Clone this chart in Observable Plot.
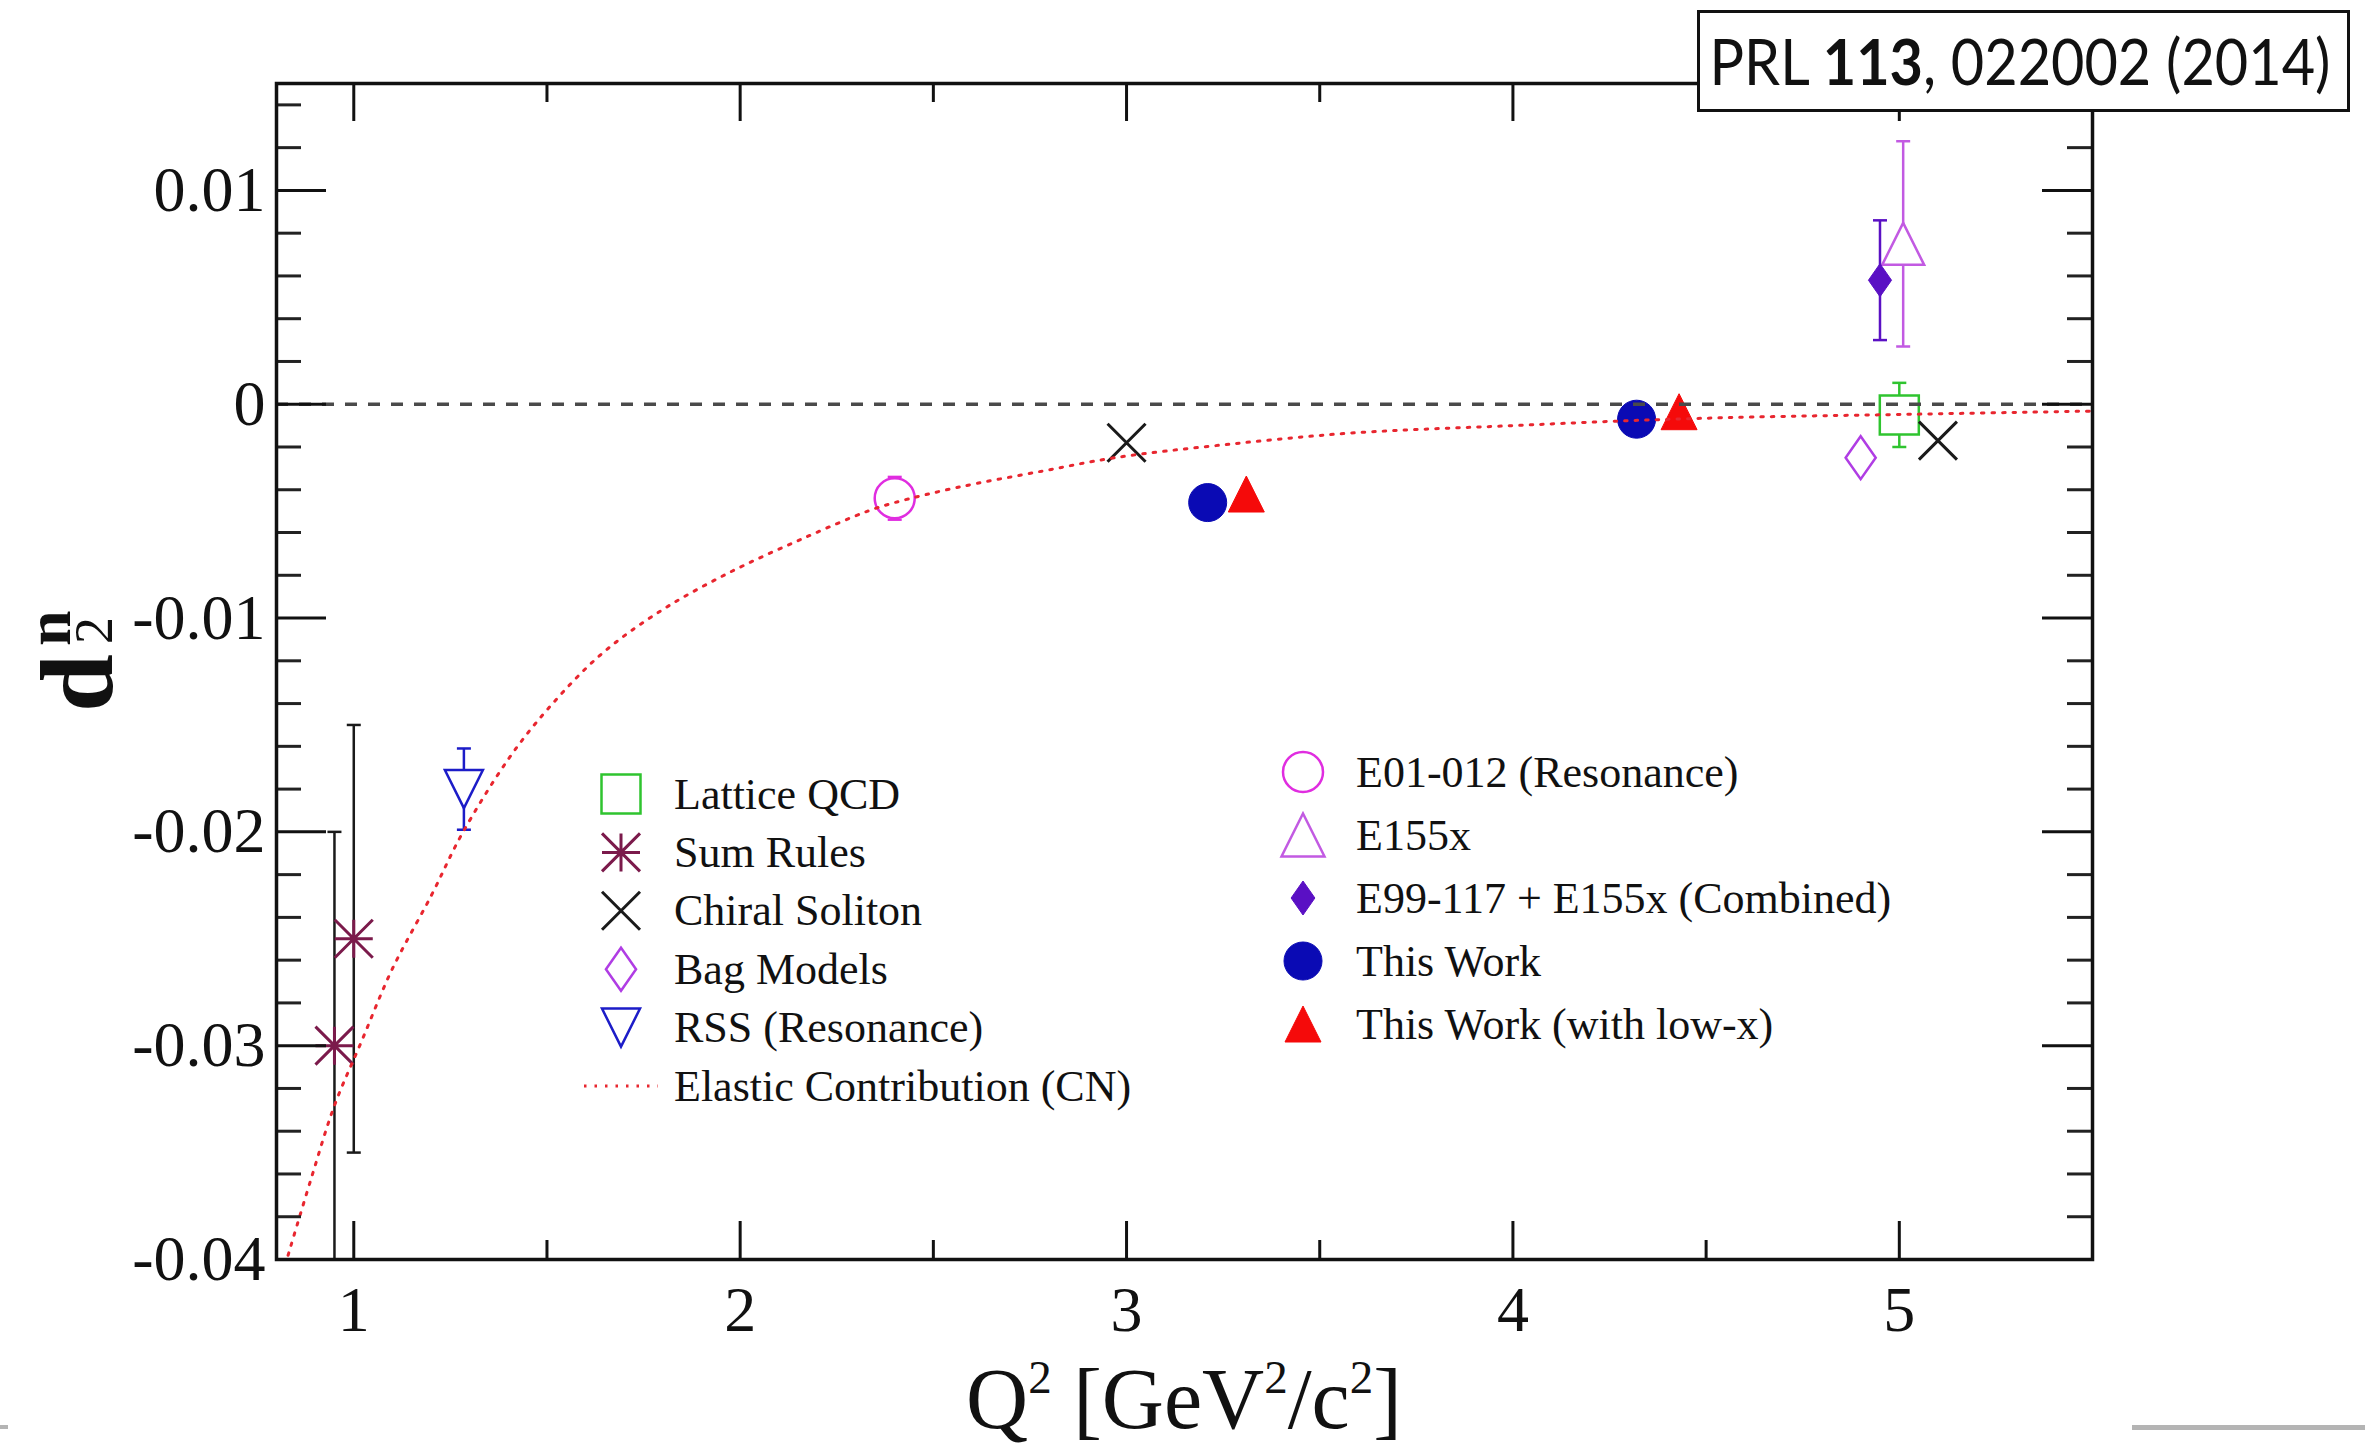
<!DOCTYPE html>
<html>
<head>
<meta charset="utf-8">
<script src="https://cdn.jsdelivr.net/npm/d3@7"></script>
<script src="https://cdn.jsdelivr.net/npm/@observablehq/plot@0.6"></script>
<style>
  html, body { margin: 0; padding: 0; background: #fff; }
  #wrap { position: relative; width: 2365px; height: 1450px; overflow: hidden; background: #fff;
          font-family: 'Liberation Serif', 'Times New Roman', serif; }
  #chart { position: absolute; left: 0; top: 0; }
  #overlay { position: absolute; left: 0; top: 0; pointer-events: none; }
  #title { position: absolute; left: 1697px; top: 10px; width: 653px; height: 102px; box-sizing: border-box;
           border: 3px solid #111; background: #fff; font-family: Lato, 'Open Sans', sans-serif; font-size: 64px;
           display: flex; justify-content: center; align-items: center; color: #111; white-space: nowrap; z-index: 5; }
  #title span { display: inline-block; flex: none; transform: translateX(-4px) scaleX(0.9); transform-origin: center; line-height: 1; }
  .gray { position: absolute; background: #b4b4b4; }
</style>
</head>
<body>
<div id="wrap">
  <div id="chart"></div>
  <svg id="overlay" width="2365" height="1450"></svg>
  <div id="title"><span>PRL <b>113</b>, 022002 (2014)</span></div>
  <div class="gray" style="left:2132px; top:1425px; width:233px; height:5px;"></div>
  <div class="gray" style="left:0px; top:1425px; width:8px; height:4px;"></div>
</div>
<script>
// ---------------- data ----------------
const latticeQ2 = [5.0],        latticeD2 = [-0.0005],          latticeErr = [0.0015];
const sumRulesQ2 = [0.95, 1.0], sumRulesD2 = [-0.030, -0.025],  sumRulesErr = [0.010, 0.010];
const chiralQ2 = [3.0, 5.1],    chiralD2 = [-0.0018, -0.0017];
const bagQ2 = [4.9],            bagD2 = [-0.0025];
const rssQ2 = [1.285],          rssD2 = [-0.0180],              rssErr = [0.0019];
const e01Q2 = [2.4],            e01D2 = [-0.0044],              e01Err = [0.0010];
const e155xQ2 = [5.01],         e155xD2 = [0.0075],             e155xErr = [0.0048];
const combQ2 = [4.95],          combD2 = [0.0058],              combErr = [0.0028];
const thisWorkQ2 = [3.21, 4.32], thisWorkD2 = [-0.0046, -0.0007];
const lowXQ2 = [3.31, 4.43],     lowXD2 = [-0.0042, -0.00035];
const elasticQ2 = [0.83, 0.89, 0.95, 1.02, 1.10, 1.20, 1.28, 1.40, 1.50, 1.64, 1.80, 1.98, 2.16, 2.33, 2.40,
                   2.56, 2.79, 2.97, 3.25, 3.58, 4.00, 4.33, 4.62, 5.00, 5.50];
const elasticD2 = [-0.0398, -0.0362, -0.0328, -0.0298, -0.0264, -0.0230, -0.0201, -0.0166, -0.0143, -0.0117,
                   -0.0096, -0.0078, -0.0063, -0.0050, -0.0046, -0.0039, -0.0031, -0.0025, -0.0019, -0.00135,
                   -0.0010, -0.00075, -0.0006, -0.00048, -0.00032];

const xMajor = [1, 2, 3, 4, 5];
const xMinor = [1.5, 2.5, 3.5, 4.5];
const yMajor = [-0.04, -0.03, -0.02, -0.01, 0, 0.01];
const yMinor = [-0.038, -0.036, -0.034, -0.032, -0.028, -0.026, -0.024, -0.022, -0.018, -0.016, -0.014, -0.012,
                -0.008, -0.006, -0.004, -0.002, 0.002, 0.004, 0.006, 0.008, 0.012, 0.014];

const legendLeft = ["Lattice QCD", "Sum Rules", "Chiral Soliton", "Bag Models", "RSS (Resonance)", "Elastic Contribution (CN)"];
const legendRight = ["E01-012 (Resonance)", "E155x", "E99-117 + E155x (Combined)", "This Work", "This Work (with low-x)"];

// ---------------- helpers ----------------
const rows = (q, d, e) => q.map((v, i) => ({q: v, d: d[i], e: e ? e[i] : 0}));
const R = s => Math.sqrt(s / Math.PI);
const sym = {
  square:  {draw(c, s) { const r = R(s); c.rect(-r, -r, 2 * r, 2 * r); }},
  times:   {draw(c, s) { const r = R(s); c.moveTo(-r, -r); c.lineTo(r, r); c.moveTo(-r, r); c.lineTo(r, -r); }},
  star:    {draw(c, s) { const r = R(s); c.moveTo(-r, -r); c.lineTo(r, r); c.moveTo(-r, r); c.lineTo(r, -r);
                                          c.moveTo(-r, 0); c.lineTo(r, 0); c.moveTo(0, -r); c.lineTo(0, r); }},
  diamond: {draw(c, s) { const r = R(s), w = 0.7 * r; c.moveTo(0, -r); c.lineTo(w, 0); c.lineTo(0, r); c.lineTo(-w, 0); c.closePath(); }},
  triUp:   {draw(c, s) { const r = R(s); c.moveTo(0, -r); c.lineTo(r, r); c.lineTo(-r, r); c.closePath(); }},
  triDown: {draw(c, s) { const r = R(s); c.moveTo(0, r); c.lineTo(r, -r); c.lineTo(-r, -r); c.closePath(); }},
  circle:  {draw(c, s) { const r = R(s); c.moveTo(r, 0); c.arc(0, 0, r, 0, 2 * Math.PI); c.closePath(); }},
  hline:   {draw(c, s) { const r = R(s); c.moveTo(-r, 0); c.lineTo(r, 0); }}
};

const C = {
  lattice: "#2fc42f", sum: "#7b1a4b", chiral: "#1a1a1a", bag: "#b03de4", rss: "#1c1cc8",
  e01: "#e02de0", e155x: "#c25ae2", comb: "#5a10c4", thisWork: "#0a0ab4", lowX: "#f50a0a", elastic: "#e8262f"
};

const lattice = rows(latticeQ2, latticeD2, latticeErr);
const sumRules = rows(sumRulesQ2, sumRulesD2, sumRulesErr);
const chiral = rows(chiralQ2, chiralD2);
const bag = rows(bagQ2, bagD2);
const rss = rows(rssQ2, rssD2, rssErr);
const e01 = rows(e01Q2, e01D2, e01Err);
const e155x = rows(e155xQ2, e155xD2, e155xErr);
const comb = rows(combQ2, combD2, combErr);
const thisWork = rows(thisWorkQ2, thisWorkD2);
const lowX = rows(lowXQ2, lowXD2);
const elastic = rows(elasticQ2, elasticD2);

function errBars(data, color) {
  return [
    Plot.ruleX(data, {x: "q", y1: d => d.d - d.e, y2: d => d.d + d.e, stroke: color, strokeWidth: 2.5}),
    Plot.dot(data, {x: "q", y: d => d.d - d.e, symbol: sym.hline, r: 7, stroke: color, strokeWidth: 2.5, fill: "none"}),
    Plot.dot(data, {x: "q", y: d => d.d + d.e, symbol: sym.hline, r: 7, stroke: color, strokeWidth: 2.5, fill: "none"})
  ];
}

const W = 2365, H = 1450, mL = 276, mR = 273, mT = 83, mB = 191;
const innerW = W - mL - mR, innerH = H - mT - mB;

const chart = Plot.plot({
  width: W, height: H,
  marginLeft: mL, marginRight: mR, marginTop: mT, marginBottom: mB,
  style: {fontFamily: "'Liberation Serif', 'Times New Roman', serif", background: "transparent", color: "#111"},
  x: {type: "linear", domain: [0.8, 5.5]},
  y: {type: "linear", domain: [-0.04, 0.015]},
  marks: [
    // error bars (open markers below are white-filled so the bar does not show inside them)
    ...errBars(sumRules, "#1a1a1a"),
    ...errBars(rss, C.rss),
    ...errBars(e01, C.e01),
    ...errBars(lattice, C.lattice),
    ...errBars(e155x, C.e155x),
    // markers
    Plot.dot(lattice, {x: "q", y: "d", symbol: sym.square, r: 19.5, stroke: C.lattice, fill: "white", strokeWidth: 2.5}),
    Plot.dot(sumRules, {x: "q", y: "d", symbol: sym.star, r: 19, stroke: C.sum, fill: "none", strokeWidth: 3}),
    Plot.dot(chiral, {x: "q", y: "d", symbol: sym.times, r: 19, stroke: C.chiral, fill: "none", strokeWidth: 3}),
    Plot.dot(bag, {x: "q", y: "d", symbol: sym.diamond, r: 21.5, stroke: C.bag, fill: "white", strokeWidth: 2.5}),
    Plot.dot(rss, {x: "q", y: "d", symbol: sym.triDown, r: 19, stroke: C.rss, fill: "white", strokeWidth: 2.5}),
    Plot.dot(e01, {x: "q", y: "d", symbol: sym.circle, r: 20, stroke: C.e01, fill: "white", strokeWidth: 2.5}),
    Plot.dot(e155x, {x: "q", y: "d", symbol: sym.triUp, r: 21, stroke: C.e155x, fill: "white", strokeWidth: 2.5}),
    ...errBars(comb, C.comb),
    Plot.dot(comb, {x: "q", y: "d", symbol: sym.diamond, r: 16.5, fill: C.comb, stroke: C.comb, strokeWidth: 1}),
    Plot.dot(thisWork, {x: "q", y: "d", symbol: sym.circle, r: 19, fill: C.thisWork, stroke: C.thisWork, strokeWidth: 1}),
    Plot.dot(lowX, {x: "q", y: "d", symbol: sym.triUp, r: 18, fill: C.lowX, stroke: C.lowX, strokeWidth: 1}),
    // zero line and elastic curve
    Plot.ruleY([0], {stroke: "#4a4a4a", strokeWidth: 3.5, strokeDasharray: "12,11"}),
    Plot.line(elastic, {x: "q", y: "d", curve: "catmull-rom", stroke: C.elastic, strokeWidth: 3,
                        strokeDasharray: "2.5,8", clip: true}),
    // ticks (inward, mirrored)
    Plot.tickX(xMajor, {x: d => d, insetTop: innerH - 38, stroke: "#111", strokeWidth: 3}),
    Plot.tickX(xMajor, {x: d => d, insetBottom: innerH - 38, stroke: "#111", strokeWidth: 3}),
    Plot.tickX(xMinor, {x: d => d, insetTop: innerH - 19, stroke: "#111", strokeWidth: 3}),
    Plot.tickX(xMinor, {x: d => d, insetBottom: innerH - 19, stroke: "#111", strokeWidth: 3}),
    Plot.tickY(yMajor, {y: d => d, insetRight: innerW - 50, stroke: "#111", strokeWidth: 3}),
    Plot.tickY(yMajor, {y: d => d, insetLeft: innerW - 50, stroke: "#111", strokeWidth: 3}),
    Plot.tickY(yMinor, {y: d => d, insetRight: innerW - 25, stroke: "#222", strokeWidth: 3}),
    Plot.tickY(yMinor, {y: d => d, insetLeft: innerW - 25, stroke: "#222", strokeWidth: 3}),
    // tick labels
    Plot.axisX(xMajor, {anchor: "bottom", tickSize: 0, tickPadding: 26, fontSize: 64, label: null,
                        tickFormat: d => String(d)}),
    Plot.axisY(yMajor, {anchor: "left", tickSize: 0, tickPadding: 11, fontSize: 64, label: null,
                        tickFormat: d => d === 0 ? "0" : String(d)}),
    Plot.frame({stroke: "#111", strokeWidth: 3.5})
  ]
});
document.getElementById("chart").appendChild(chart);

// ---------------- overlay: axis labels + legend ----------------
const ov = d3.select("#overlay");
const ff = "'Liberation Serif', 'Times New Roman', serif";

// y label: d_2^n (rotated)
const yl = ov.append("text").attr("transform", "translate(112,712) rotate(-90)")
  .attr("font-family", ff).attr("fill", "#111");
yl.append("tspan").attr("x", 0).attr("y", 0).attr("font-size", 104).attr("font-weight", "bold").text("d");
yl.append("tspan").attr("x", 68).attr("y", 0).attr("font-size", 54).text("2");
yl.append("tspan").attr("x", 66).attr("y", -42).attr("font-size", 64).attr("font-weight", "bold").text("n");

// x label: Q^2 [GeV^2/c^2]
const xl = ov.append("text").attr("x", 1184).attr("y", 1428).attr("text-anchor", "middle")
  .attr("font-family", ff).attr("font-size", 86).attr("fill", "#111");
const xparts = [["Q", 0], ["2", 1], [" [GeV", 0], ["2", 1], ["/c", 0], ["2", 1], ["]", 0]];
let raised = false;
xparts.forEach(([t, sup]) => {
  const ts = xl.append("tspan").text(t);
  if (sup) { ts.attr("font-size", 47).attr("dy", -35); raised = true; }
  else if (raised) { ts.attr("dy", 35); raised = false; }
});

function symPath(s, r) { const p = d3.path(); s.draw(p, r * r * Math.PI); return p.toString(); }

const leftSyms = [
  {s: sym.square, r: 19.5, stroke: C.lattice, fill: "none", w: 2.5},
  {s: sym.star, r: 19, stroke: C.sum, fill: "none", w: 3},
  {s: sym.times, r: 19, stroke: C.chiral, fill: "none", w: 3},
  {s: sym.diamond, r: 21.5, stroke: C.bag, fill: "none", w: 2.5},
  {s: sym.triDown, r: 19, stroke: C.rss, fill: "none", w: 2.5},
  {line: true}
];
const rightSyms = [
  {s: sym.circle, r: 20, stroke: C.e01, fill: "none", w: 2.5},
  {s: sym.triUp, r: 21.5, stroke: C.e155x, fill: "none", w: 2.5},
  {s: sym.diamond, r: 17, stroke: C.comb, fill: C.comb, w: 1},
  {s: sym.circle, r: 19, stroke: C.thisWork, fill: C.thisWork, w: 1},
  {s: sym.triUp, r: 18, stroke: C.lowX, fill: C.lowX, w: 1}
];

function drawLegend(labels, syms, symX, textX, y0, step) {
  labels.forEach((lab, i) => {
    const y = y0 + i * step, m = syms[i];
    if (m.line) {
      ov.append("line").attr("x1", symX - 37).attr("x2", symX + 37).attr("y1", y).attr("y2", y)
        .attr("stroke", C.elastic).attr("stroke-width", 3).attr("stroke-dasharray", "2.5,8");
    } else {
      ov.append("path").attr("d", symPath(m.s, m.r)).attr("transform", `translate(${symX},${y})`)
        .attr("stroke", m.stroke).attr("fill", m.fill).attr("stroke-width", m.w);
    }
    ov.append("text").attr("x", textX).attr("y", y).attr("dy", "0.33em")
      .attr("font-family", ff).attr("font-size", 44).attr("fill", "#111").text(lab);
  });
}
drawLegend(legendLeft, leftSyms, 621, 674, 794, 58.4);
drawLegend(legendRight, rightSyms, 1303, 1356, 772, 63);
</script>
</body>
</html>
